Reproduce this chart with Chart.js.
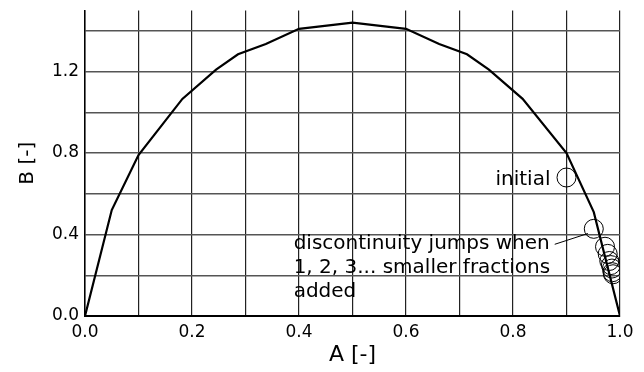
<!DOCTYPE html>
<html>
<head>
<meta charset="utf-8">
<script src="https://cdn.jsdelivr.net/npm/chart.js@4.4.1/dist/chart.umd.min.js"></script>
<style>
  html, body { margin: 0; padding: 0; background: #fff; }
  canvas { display: block; }
</style>
</head>
<body>
<canvas id="chart" width="644" height="372"></canvas>
<script>
// curve B(A)
const curveA = [0, 0.05, 0.1, 0.182, 0.245, 0.286, 0.338, 0.4, 0.5, 0.6, 0.662, 0.714, 0.755, 0.818, 0.9, 0.951, 1.0];
const curveB = [0, 0.52, 0.79, 1.066, 1.21, 1.285, 1.335, 1.41, 1.44, 1.41, 1.335, 1.285, 1.21, 1.066, 0.8, 0.51, 0];

// circles: initial point and the jumps
const circleA = [0.9, 0.951, 0.972, 0.977, 0.980, 0.983, 0.985, 0.986, 0.987];
const circleB = [0.68, 0.428, 0.34, 0.305, 0.27, 0.25, 0.233, 0.215, 0.205];

// leader line from the text to the first jump
const leaderA = [0.878, 0.940];
const leaderB = [0.352, 0.405];

// annotation texts, anchored in data units
const notes = [
  { text: 'initial', a: 0.870, b: 0.67, align: 'right' },
  { text: 'discontinuity jumps when', a: 0.390, b: 0.355, align: 'left' },
  { text: '1, 2, 3... smaller fractions', a: 0.390, b: 0.238, align: 'left' },
  { text: 'added', a: 0.390, b: 0.121, align: 'left' }
];

const xTicks = [0, 0.1, 0.2, 0.3, 0.4, 0.5, 0.6, 0.7, 0.8, 0.9, 1.0];
const yTicks = [0, 0.2, 0.4, 0.6, 0.8, 1.0, 1.2, 1.4];

const FONT = "'DejaVu Sans', sans-serif";

const toPoints = (xs, ys) => xs.map((x, i) => ({ x: x, y: ys[i] }));

const notePlugin = {
  id: 'notes',
  afterDatasetsDraw(chart) {
    const ctx = chart.ctx;
    const sx = chart.scales.x, sy = chart.scales.y;
    ctx.save();
    ctx.font = '20px ' + FONT;
    ctx.fillStyle = '#000';
    ctx.textBaseline = 'middle';
    notes.forEach(n => {
      ctx.textAlign = n.align;
      ctx.fillText(n.text, sx.getPixelForValue(n.a), sy.getPixelForValue(n.b));
    });
    ctx.restore();
  }
};

new Chart(document.getElementById('chart'), {
  type: 'scatter',
  data: {
    datasets: [
      {
        data: toPoints(curveA, curveB),
        showLine: true,
        borderColor: '#000',
        borderWidth: 2.2,
        pointRadius: 0,
        tension: 0
      },
      {
        data: toPoints(circleA, circleB),
        showLine: false,
        pointStyle: 'circle',
        pointRadius: 9.5,
        pointBorderWidth: 1,
        pointBorderColor: '#000',
        pointBackgroundColor: 'rgba(0,0,0,0)'
      },
      {
        data: toPoints(leaderA, leaderB),
        showLine: true,
        borderColor: '#000',
        borderWidth: 1,
        pointRadius: 0
      }
    ]
  },
  options: {
    responsive: false,
    animation: false,
    devicePixelRatio: 1,
    layout: { padding: { left: 0, right: 24, top: 8, bottom: 4 } },
    plugins: {
      legend: { display: false },
      tooltip: { enabled: false }
    },
    scales: {
      x: {
        type: 'linear',
        min: 0,
        max: 1,
        afterBuildTicks: s => { s.ticks = xTicks.map(v => ({ value: v })); },
        afterFit: s => { s.height = 52; s.paddingLeft = 0; s.paddingRight = 0; },
        ticks: {
          color: '#000',
          font: { family: FONT, size: 17 },
          padding: 6,
          maxRotation: 0,
          callback: v => (Math.round(v * 10) % 2 === 0 ? v.toFixed(1) : '')
        },
        grid: { color: '#222', lineWidth: 1.2, drawTicks: false },
        border: { color: '#000', width: 2 },
        title: {
          display: true,
          text: 'A [-]',
          color: '#000',
          font: { family: FONT, size: 22 },
          padding: { top: 0, bottom: 0 }
        }
      },
      y: {
        type: 'linear',
        min: 0,
        max: 1.5,
        afterBuildTicks: s => { s.ticks = yTicks.map(v => ({ value: v })); },
        afterFit: s => { s.width = 85; s.paddingTop = 0; s.paddingBottom = 0; },
        ticks: {
          color: '#000',
          font: { family: FONT, size: 17 },
          padding: 6,
          callback: v => (Math.round(v * 10) % 4 === 0 ? v.toFixed(1) : '')
        },
        grid: { color: '#555', lineWidth: 1.4, drawTicks: false },
        border: { color: '#000', width: 1.5 },
        title: {
          display: true,
          text: 'B [-]',
          color: '#000',
          font: { family: FONT, size: 20 },
          padding: { top: 16, bottom: 0 }
        }
      }
    }
  },
  plugins: [notePlugin]
});
</script>
</body>
</html>
